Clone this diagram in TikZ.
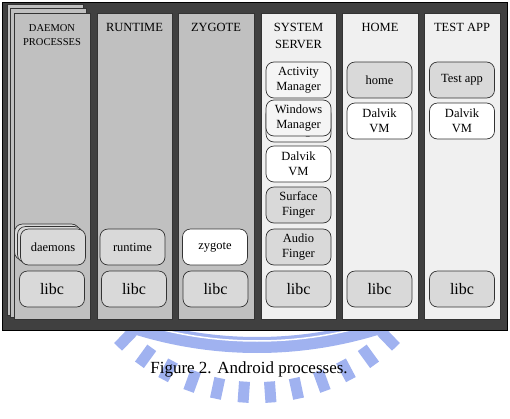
\documentclass[tikz,border=0pt]{standalone}
\usepackage{fontspec}
\setmainfont{Liberation Serif}
\definecolor{outergray}{HTML}{404040}
\definecolor{colA}{HTML}{C0C0C0}
\definecolor{colB}{HTML}{F0F0F0}
\definecolor{boxg}{HTML}{D9D9D9}
\definecolor{boxl}{HTML}{F5F5F5}
\definecolor{wm}{RGB}{160,178,240}
\begin{document}
\begin{tikzpicture}[x=1pt,y=-1pt,
  sheet/.style={fill=colA, draw=black!80, line width=0.6pt},
  colbox/.style={draw=black!80, line width=0.6pt},
  pbox/.style={draw=black!80, line width=0.7pt, rounded corners=8pt,
    minimum width=65pt, minimum height=36pt, inner sep=0pt, align=center,
    font=\fontsize{12.5}{15.5}\selectfont},
  graybox/.style={pbox, fill=boxg},
  whitebox/.style={pbox, fill=white},
  lightbox/.style={pbox, fill=boxl},
  libcbox/.style={graybox, font=\fontsize{16}{18}\selectfont},
  header/.style={anchor=north, inner sep=0pt, align=center,
    font=\fontsize{12.5}{17}\selectfont},
  smallheader/.style={header, font=\fontsize{10.5}{14}\selectfont},
  wmline/.style={draw=wm}]
\useasboundingbox (0,0) rectangle (510,418);
% watermark
\coordinate (wb) at (257,-61);
\coordinate (ws) at (257,203);
\draw[wmline, line width=16pt] ([shift={(wb)}]69:406) arc[start angle=69, end angle=111, radius=406];
\draw[white, line width=1.5pt] ([shift={(wb)}]69:402) arc[start angle=69, end angle=111, radius=402];
\foreach \a in {46,54,...,134}
  \draw[wmline, line width=11pt] ([shift={(ws)}]\a:179) -- ([shift={(ws)}]\a:200);
% outer frame
\path[fill=outergray, draw=black, line width=0.6pt] (2,2) rectangle (507,330);
% daemon column (stacked sheets)
\path[sheet] (7,4) rectangle (83,315);
\path[sheet] (10.5,8.5) rectangle (86.5,317);
\path[sheet] (14,13) rectangle (90,319);
% other columns
\path[colbox, fill=colA] (97,13) rectangle (172,319);
\path[colbox, fill=colA] (178,13) rectangle (254,319);
\path[colbox, fill=colB] (261,13) rectangle (336,319);
\path[colbox, fill=colB] (342,13) rectangle (418,319);
\path[colbox, fill=colB] (424,13) rectangle (500,319);
% headers
\node[smallheader] (h1) at (52,24) {DAEMON\\PROCESSES};
\node[header] (h2) at (134.5,23.5) {RUNTIME};
\node[header] (h3) at (216,23.5) {ZYGOTE};
\node[header] (h4) at (298.5,23.5) {SYSTEM\\SERVER};
\node[header] (h5) at (380,23.5) {HOME};
\node[header] (h6) at (462,23.5) {TEST APP};
% daemon processes
\node[graybox] (d3) at (47,242) {};
\node[graybox] (d2) at (50,244.5) {};
\node[graybox] (d1) at (53,247) {daemons};
\node[libcbox] (l1) at (52,289) {libc};
% runtime
\node[graybox] (rt) at (132.5,247) {runtime};
\node[libcbox] (l2) at (134,289) {libc};
% zygote
\node[whitebox] (zy) at (215,247) {zygote};
\node[libcbox] (l3) at (215.5,289) {libc};
% system server
\node[lightbox] (am) at (298.5,80) {Activity\\Manager};
\node[lightbox] (wm2) at (298.5,124) {Windows\\Manager};
\node[lightbox] (wm1) at (298.5,118) {Windows\\Manager};
\node[whitebox] (dv1) at (298.5,164) {Dalvik\\VM};
\node[graybox] (sf) at (298.5,205) {Surface\\Finger};
\node[graybox] (af) at (298.5,247) {Audio\\Finger};
\node[libcbox] (l4) at (298.5,289) {libc};
% home
\node[graybox] (hm) at (379.5,80) {home};
\node[whitebox] (dv2) at (379.5,121) {Dalvik\\VM};
\node[libcbox] (l5) at (379.5,289) {libc};
% test app
\node[graybox] (ta) at (462,80) {Test app};
\node[whitebox] (dv3) at (462,121) {Dalvik\\VM};
\node[libcbox] (l6) at (462,289) {libc};
% caption
\node[anchor=base, inner sep=0pt, font=\fontsize{17}{20}\selectfont] (cap) at (249,373) {Figure 2. Android processes.};
\end{tikzpicture}
\end{document}
